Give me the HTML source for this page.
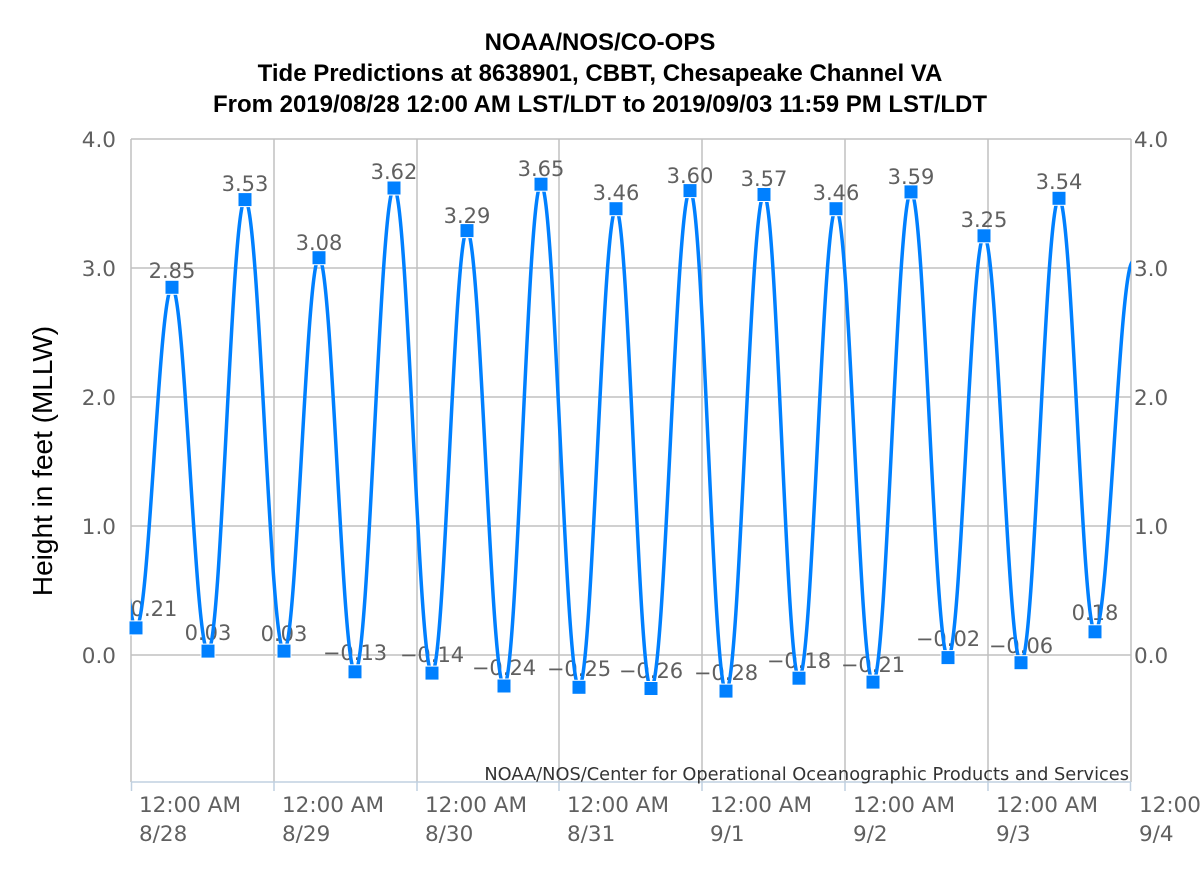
<!DOCTYPE html>
<html><head><meta charset="utf-8"><style>
body{margin:0;background:#fff;}
svg{display:block;}
.t{font-family:"Liberation Sans",Arial,sans-serif;font-weight:bold;font-size:24px;fill:#000;}
.a{font-family:"DejaVu Sans",sans-serif;font-size:21.5px;fill:#606060;}
.p{font-family:"DejaVu Sans",sans-serif;font-size:21px;fill:#606060;}
</style></head><body>
<svg width="1200" height="874" xmlns="http://www.w3.org/2000/svg">
<rect width="1200" height="874" fill="#fff"/>
<text class="t" x="600" y="50" text-anchor="middle">NOAA/NOS/CO-OPS</text>
<text class="t" x="600" y="81" text-anchor="middle">Tide Predictions at 8638901, CBBT, Chesapeake Channel VA</text>
<text class="t" x="600" y="112" text-anchor="middle">From 2019/08/28 12:00 AM LST/LDT to 2019/09/03 11:59 PM LST/LDT</text>
<g stroke="#c0c0c0" stroke-width="1.5">
<line x1="131" x2="1131" y1="139" y2="139"/><line x1="131" x2="1131" y1="268" y2="268"/>
<line x1="131" x2="1131" y1="397" y2="397"/><line x1="131" x2="1131" y1="526" y2="526"/>
<line x1="131" x2="1131" y1="655" y2="655"/>
<line x1="131" x2="131" y1="139" y2="782"/><line x1="274" x2="274" y1="139" y2="782"/>
<line x1="417" x2="417" y1="139" y2="782"/><line x1="559" x2="559" y1="139" y2="782"/>
<line x1="702" x2="702" y1="139" y2="782"/><line x1="845" x2="845" y1="139" y2="782"/>
<line x1="988" x2="988" y1="139" y2="782"/><line x1="1131" x2="1131" y1="139" y2="782"/>
</g>
<g stroke="#c0d0e0" stroke-width="1.5">
<line x1="131" x2="1131" y1="782" y2="782"/>
<line x1="131.5" x2="131.5" y1="782" y2="791"/><line x1="274" x2="274" y1="782" y2="791"/>
<line x1="417" x2="417" y1="782" y2="791"/><line x1="559" x2="559" y1="782" y2="791"/>
<line x1="702" x2="702" y1="782" y2="791"/><line x1="845" x2="845" y1="782" y2="791"/>
<line x1="988" x2="988" y1="782" y2="791"/><line x1="1130.5" x2="1130.5" y1="782" y2="791"/>
</g>
<g class="a" text-anchor="end">
<text x="116" y="147">4.0</text><text x="116" y="276">3.0</text><text x="116" y="405">2.0</text>
<text x="116" y="534">1.0</text><text x="116" y="663">0.0</text></g>
<g class="a">
<text x="1134" y="147">4.0</text><text x="1134" y="276">3.0</text><text x="1134" y="405">2.0</text>
<text x="1134" y="534">1.0</text><text x="1134" y="663">0.0</text></g>
<text x="52" y="461" transform="rotate(-90 52 461)" text-anchor="middle" style="font-family:'Liberation Sans',Arial,sans-serif;font-size:28px;fill:#000">Height in feet (MLLW)</text>
<g class="a">
<text x="139" y="812">12:00 AM</text><text x="139" y="841">8/28</text>
<text x="282" y="812">12:00 AM</text><text x="282" y="841">8/29</text>
<text x="425" y="812">12:00 AM</text><text x="425" y="841">8/30</text>
<text x="567" y="812">12:00 AM</text><text x="567" y="841">8/31</text>
<text x="710" y="812">12:00 AM</text><text x="710" y="841">9/1</text>
<text x="853" y="812">12:00 AM</text><text x="853" y="841">9/2</text>
<text x="996" y="812">12:00 AM</text><text x="996" y="841">9/3</text>
<text x="1139" y="812">12:00</text><text x="1139" y="841">9/4</text>
</g>
<text x="1129" y="780" text-anchor="end" style="font-family:'DejaVu Sans',sans-serif;font-size:17.8px;fill:#333">NOAA/NOS/Center for Operational Oceanographic Products and Services</text>
<g class="p" text-anchor="middle">
<text x="154" y="616">0.21</text><text x="172" y="278">2.85</text><text x="208" y="640">0.03</text>
<text x="245" y="191">3.53</text><text x="284" y="641">0.03</text><text x="319" y="250">3.08</text>
<text x="355" y="660">−0.13</text><text x="394" y="179">3.62</text><text x="432" y="662">−0.14</text>
<text x="467" y="223">3.29</text><text x="504" y="675">−0.24</text><text x="541" y="176">3.65</text>
<text x="579" y="676">−0.25</text><text x="616" y="200">3.46</text><text x="651" y="678">−0.26</text>
<text x="690" y="183">3.60</text><text x="726" y="680">−0.28</text><text x="764" y="186">3.57</text>
<text x="799" y="668">−0.18</text><text x="836" y="200">3.46</text><text x="873" y="672">−0.21</text>
<text x="911" y="184">3.59</text><text x="948" y="646">−0.02</text><text x="984" y="227">3.25</text>
<text x="1021" y="653">−0.06</text><text x="1059" y="189">3.54</text><text x="1095" y="620">0.18</text>
</g>
<clipPath id="c"><rect x="131" y="120" width="1000" height="662"/></clipPath>
<path clip-path="url(#c)" fill="none" stroke="#0080ff" stroke-width="3.5" d="M100 280.9 C113.1 280.9 122.9 627.9 136 627.9 C149.1 627.9 158.9 287.35 172 287.35 C185.1 287.35 194.9 651.1 208 651.1 C221.5 651.1 231.5 199.6 245 199.6 C259.2 199.6 269.8 651.1 284 651.1 C296.7 651.1 306.3 257.7 319 257.7 C332.1 257.7 341.9 671.8 355 671.8 C369.2 671.8 379.8 188 394 188 C407.8 188 418.2 673.1 432 673.1 C444.7 673.1 454.3 230.6 467 230.6 C480.5 230.6 490.5 686 504 686 C517.5 686 527.5 184.2 541 184.2 C554.8 184.2 565.2 687.3 579 687.3 C592.5 687.3 602.5 208.7 616 208.7 C628.7 208.7 638.3 688.5 651 688.5 C665.2 688.5 675.8 190.6 690 190.6 C703.1 190.6 712.9 691.1 726 691.1 C739.8 691.1 750.2 194.5 764 194.5 C776.7 194.5 786.3 678.2 799 678.2 C812.5 678.2 822.5 208.7 836 208.7 C849.5 208.7 859.5 682.1 873 682.1 C886.8 682.1 897.2 191.9 911 191.9 C924.5 191.9 934.5 657.6 948 657.6 C961.1 657.6 970.9 235.8 984 235.8 C997.5 235.8 1007.5 662.7 1021 662.7 C1034.8 662.7 1045.2 198.3 1059 198.3 C1072.1 198.3 1081.9 631.8 1095 631.8 C1108.8 631.8 1119.2 261.5 1133 261.5"/>
<g fill="#0080ff" stroke="#fff" stroke-width="1">
<rect x="129" y="620.9" width="14" height="14"/><rect x="165" y="280.3" width="14" height="14"/>
<rect x="201" y="644.1" width="14" height="14"/><rect x="238" y="192.6" width="14" height="14"/>
<rect x="277" y="644.1" width="14" height="14"/><rect x="312" y="250.7" width="14" height="14"/>
<rect x="348" y="664.8" width="14" height="14"/><rect x="387" y="181" width="14" height="14"/>
<rect x="425" y="666.1" width="14" height="14"/><rect x="460" y="223.6" width="14" height="14"/>
<rect x="497" y="679" width="14" height="14"/><rect x="534" y="177.2" width="14" height="14"/>
<rect x="572" y="680.3" width="14" height="14"/><rect x="609" y="201.7" width="14" height="14"/>
<rect x="644" y="681.5" width="14" height="14"/><rect x="683" y="183.6" width="14" height="14"/>
<rect x="719" y="684.1" width="14" height="14"/><rect x="757" y="187.5" width="14" height="14"/>
<rect x="792" y="671.2" width="14" height="14"/><rect x="829" y="201.7" width="14" height="14"/>
<rect x="866" y="675.1" width="14" height="14"/><rect x="904" y="184.9" width="14" height="14"/>
<rect x="941" y="650.6" width="14" height="14"/><rect x="977" y="228.8" width="14" height="14"/>
<rect x="1014" y="655.7" width="14" height="14"/><rect x="1052" y="191.3" width="14" height="14"/>
<rect x="1088" y="624.8" width="14" height="14"/>
</g>
</svg>
</body></html>
